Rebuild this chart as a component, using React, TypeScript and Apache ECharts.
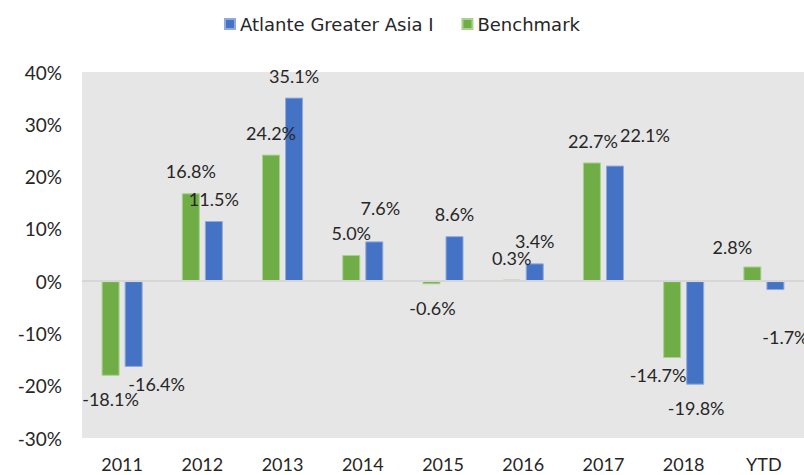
import React, { useEffect, useRef } from 'react';
import * as echarts from 'echarts';

const categories = ['2011', '2012', '2013', '2014', '2015', '2016', '2017', '2018', 'YTD'];
const fundName = 'Atlante Greater Asia I';
const benchName = 'Benchmark';
const fundValues = [-16.4, 11.5, 35.1, 7.6, 8.6, 3.4, 22.1, -19.8, -1.7];
const benchValues = [-18.1, 16.8, 24.2, 5.0, -0.6, 0.3, 22.7, -14.7, 2.8];
const yMin = -30;
const yMax = 40;
const yInterval = 10;

export default function App() {
  const ref = useRef<HTMLDivElement>(null);
  useEffect(() => {
    document.body.style.margin = '0';
    const chart = echarts.init(ref.current!, null, { renderer: 'svg' });
    const font = 'Lato';
    const textColor = '#262626';
    const fundNudge = [[23, -5], [0, 0], [0, 0], [6, -11], [0, 0], [0, 0], [30, -9], [1, 1], [10, 25]];
    const benchNudge = [[0, 1], [0, 0], [0, 0], [0, 0], [1, 2], [0, 0], [1, 1], [-14, -5], [-20, 2]];
    const mk = (vals: number[], nudge: number[][]) =>
      vals.map((v, i) => ({
        value: v,
        label: { position: v >= 0 ? 'top' : 'bottom', offset: nudge[i] },
      }));
    const labelCfg = {
      show: true,
      distance: 13,
      fontFamily: font,
      fontSize: 18,
      color: textColor,
      formatter: (p: any) => p.value.toFixed(1) + '%',
    };
    chart.setOption({
      animation: false,
      legend: {
        data: [fundName, benchName],
        top: 10,
        left: 'center',
        icon: 'rect',
        itemWidth: 10,
        itemHeight: 10,
        itemGap: 28,
        textStyle: { fontFamily: 'DejaVu Sans', fontSize: 18, color: textColor },
      },
      grid: {
        left: 82,
        right: 0,
        top: 72,
        bottom: 37,
        show: true,
        backgroundColor: '#e6e6e6',
        borderWidth: 0,
      },
      xAxis: {
        type: 'category',
        data: categories,
        axisLine: { show: false, onZero: false },
        axisTick: { show: false },
        axisLabel: { fontFamily: font, fontSize: 18, color: textColor, margin: 17 },
      },
      yAxis: {
        type: 'value',
        min: yMin,
        max: yMax,
        interval: yInterval,
        splitLine: { show: false },
        axisLine: { show: false },
        axisTick: { show: false },
        axisLabel: {
          fontFamily: font,
          fontSize: 19,
          color: textColor,
          margin: 20,
          formatter: (v: number) => v + '%',
        },
      },
      series: [
        {
          name: benchName,
          type: 'bar',
          data: mk(benchValues, benchNudge),
          barWidth: 18,
          barGap: '28%',
          itemStyle: { color: '#70ad47', borderColor: '#a9d18e', borderWidth: 1 },
          label: labelCfg,
          markLine: {
            silent: true,
            symbol: 'none',
            label: { show: false },
            lineStyle: { color: '#d6d6d6', width: 2, type: 'solid' },
            data: [{ yAxis: 0 }],
          },
          z: 3,
        },
        {
          name: fundName,
          type: 'bar',
          data: mk(fundValues, fundNudge),
          barWidth: 18,
          barGap: '28%',
          itemStyle: { color: '#4472c4', borderColor: '#8faadc', borderWidth: 1 },
          label: labelCfg,
          z: 3,
        },
      ],
    });
    return () => chart.dispose();
  }, []);
  return <div ref={ref} style={{ width: 804, height: 475 }} />;
}
